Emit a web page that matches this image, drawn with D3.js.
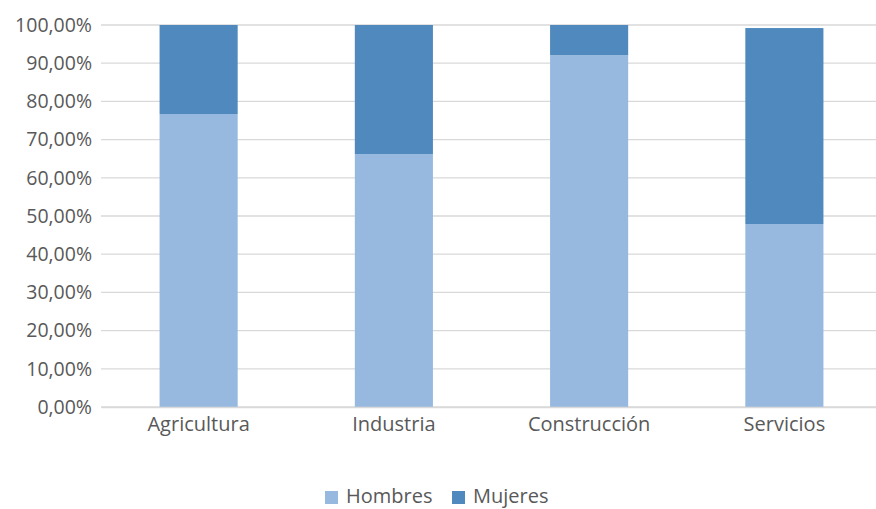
<!DOCTYPE html>
<html>
<head>
<meta charset="utf-8">
<script src="https://cdn.jsdelivr.net/npm/d3@7"></script>
<style>
  body { margin: 0; background: #fff; }
  svg { display: block; font-family: "Open Sans", sans-serif; }
  .tick text { fill: #595959; }
</style>
</head>
<body>
<div id="chart"></div>
<script>
// Share of employment by sector, split by sex
const categories = ['Agricultura', 'Industria', 'Construcción', 'Servicios'];
const hombres    = [0.767, 0.662, 0.921, 0.479];
const mujeres    = [0.233, 0.338, 0.079, 0.513];
const seriesNames  = ['Hombres', 'Mujeres'];
const seriesColors = ['#97b9e0', '#4f89be'];
const yTicks = d3.range(0, 11).map(i => i / 10);

const W = 876, H = 509;
const margin = { top: 25, right: 0, bottom: 102, left: 101 };
const plotW = 882 - margin.left;
const plotH = H - margin.top - margin.bottom;

const svg = d3.select('#chart').append('svg')
  .attr('width', W).attr('height', H);

const g = svg.append('g')
  .attr('transform', `translate(${margin.left},${margin.top})`);

const x = d3.scaleBand().domain(categories).range([0, plotW])
  .paddingInner(0.6).paddingOuter(0.3);
const y = d3.scaleLinear().domain([0, 1]).range([plotH, 0]);

const pct = d => d3.format('.2f')(d * 100).replace('.', ',') + '%';

// gridlines
g.append('g')
  .selectAll('line')
  .data(yTicks)
  .join('line')
  .attr('x1', 0).attr('x2', plotW)
  .attr('y1', d => y(d)).attr('y2', d => y(d))
  .attr('stroke', '#d9d9d9').attr('stroke-width', 1.3);

// y axis labels
const yAxis = g.append('g')
  .call(d3.axisLeft(y).tickValues(yTicks).tickFormat(pct).tickSize(0).tickPadding(9));
yAxis.select('.domain').remove();
yAxis.selectAll('text').style('font-size', '19.5px').style('font-family', '"Open Sans", sans-serif');

// stacked bars
const rows = categories.map((c, i) => ({ cat: c, Hombres: hombres[i], Mujeres: mujeres[i] }));
const stack = d3.stack().keys(seriesNames)(rows);

g.append('g')
  .selectAll('g')
  .data(stack)
  .join('g')
  .attr('fill', (d, i) => seriesColors[i])
  .selectAll('rect')
  .data(d => d)
  .join('rect')
  .attr('x', d => x(d.data.cat))
  .attr('width', x.bandwidth())
  .attr('y', d => y(d[1]))
  .attr('height', d => y(d[0]) - y(d[1]));

// x axis
const xAxis = g.append('g')
  .attr('transform', `translate(0,${plotH})`)
  .call(d3.axisBottom(x).tickSize(0).tickPadding(10));
xAxis.select('.domain').attr('stroke', '#d9d9d9').attr('stroke-width', 1.3);
xAxis.selectAll('text').style('font-size', '20px').style('font-family', '"Open Sans", sans-serif');

// legend
const legend = svg.append('g').attr('transform', 'translate(325,496)');
const legendX = [0, 127];
seriesNames.forEach((name, i) => {
  const lg = legend.append('g').attr('transform', `translate(${legendX[i]},0)`);
  lg.append('rect').attr('x', 0).attr('y', -5).attr('width', 13).attr('height', 13)
    .attr('fill', seriesColors[i]);
  lg.append('text').attr('x', 21).attr('y', 0).attr('dy', '0.35em')
    .attr('fill', '#595959').style('font-size', '20px').text(name);
});
</script>
</body>
</html>
